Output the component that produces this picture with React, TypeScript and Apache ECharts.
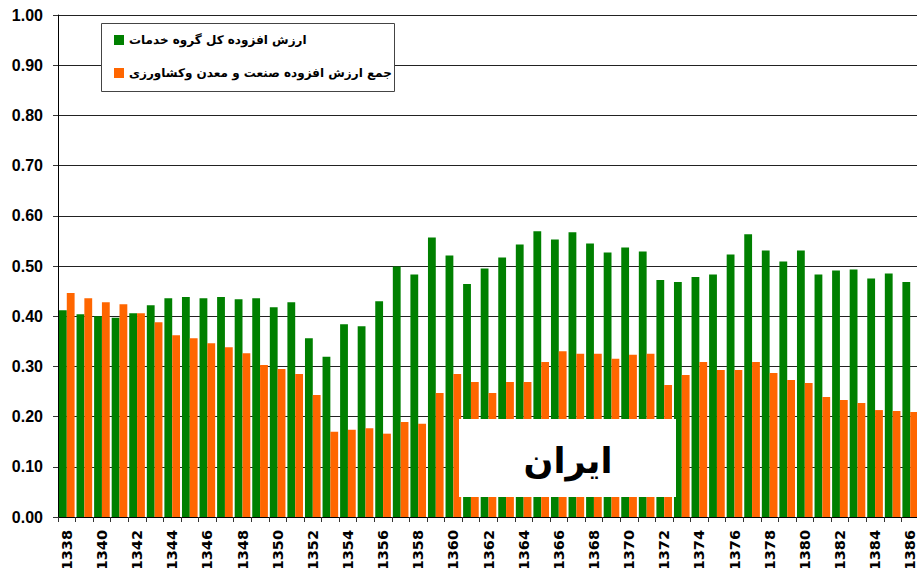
import React, { useEffect, useRef } from "react";
import * as echarts from "echarts";

const years = [
  "1338", "1339", "1340", "1341", "1342", "1343", "1344", "1345", "1346", "1347",
  "1348", "1349", "1350", "1351", "1352", "1353", "1354", "1355", "1356", "1357",
  "1358", "1359", "1360", "1361", "1362", "1363", "1364", "1365", "1366", "1367",
  "1368", "1369", "1370", "1371", "1372", "1373", "1374", "1375", "1376", "1377",
  "1378", "1379", "1380", "1381", "1382", "1383", "1384", "1385", "1386",
];

const servicesName = "ارزش افزوده کل گروه خدمات";
const industryName = "جمع ارزش افزوده صنعت و معدن وکشاورزی";

const services = [
  0.412, 0.404, 0.400, 0.397, 0.406, 0.422, 0.436, 0.438, 0.436, 0.438,
  0.434, 0.436, 0.418, 0.428, 0.356, 0.319, 0.384, 0.380, 0.430, 0.499,
  0.483, 0.557, 0.521, 0.464, 0.495, 0.517, 0.543, 0.569, 0.553, 0.567,
  0.545, 0.527, 0.537, 0.529, 0.472, 0.468, 0.478, 0.483, 0.523, 0.563,
  0.531, 0.509, 0.531, 0.483, 0.491, 0.493, 0.475, 0.485, 0.468,
];

const industry = [
  0.446, 0.436, 0.428, 0.424, 0.406, 0.388, 0.362, 0.356, 0.346, 0.338,
  0.326, 0.303, 0.295, 0.285, 0.243, 0.170, 0.174, 0.177, 0.166, 0.189,
  0.186, 0.247, 0.285, 0.269, 0.247, 0.269, 0.269, 0.309, 0.330, 0.325,
  0.325, 0.315, 0.323, 0.325, 0.263, 0.283, 0.309, 0.293, 0.293, 0.309,
  0.287, 0.273, 0.267, 0.239, 0.233, 0.227, 0.213, 0.211, 0.209,
];

const boxTitle = "ایران";

export default function App() {
  const ref = useRef<HTMLDivElement>(null);
  useEffect(() => {
    if (!ref.current) return;
    const chart = echarts.init(ref.current, null, { renderer: "svg" });
    const labelFont = "'Liberation Sans', Arial, sans-serif";
    const fa = "'DejaVu Sans', 'Liberation Sans', sans-serif";
    chart.setOption({
      animation: false,
      backgroundColor: "#ffffff",
      grid: {
        left: 58,
        top: 15,
        width: 861,
        height: 502,
        containLabel: false,
        outerBoundsMode: "none",
      },
      legend: {
        left: 114,
        top: 32,
        orient: "vertical",
        itemWidth: 10,
        itemHeight: 10,
        itemGap: 17,
        padding: 0,
        icon: "rect",
        z: 6,
        textStyle: {
          fontFamily: fa,
          fontWeight: "bold",
          fontSize: 12,
          lineHeight: 16,
          color: "#000",
        },
        data: [servicesName, industryName],
      },
      xAxis: {
        type: "category",
        data: years,
        boundaryGap: true,
        axisLine: { show: true, lineStyle: { color: "#000", width: 1 } },
        axisTick: {
          show: true,
          interval: 0,
          alignWithLabel: false,
          length: 5,
          lineStyle: { color: "#333" },
        },
        axisLabel: {
          interval: 1,
          rotate: 90,
          margin: 13,
          fontFamily: "'DejaVu Sans', sans-serif",
          fontWeight: "bold",
          fontSize: 14.5,
          color: "#000",
        },
        splitLine: { show: false },
      },
      yAxis: {
        type: "value",
        min: 0,
        max: 1,
        interval: 0.1,
        axisLine: { show: true, lineStyle: { color: "#000", width: 1 } },
        axisTick: { show: true, length: 5, lineStyle: { color: "#333" } },
        axisLabel: {
          margin: 15,
          fontFamily: labelFont,
          fontWeight: "bold",
          fontSize: 16,
          color: "#000",
          formatter: (v: number) => v.toFixed(2),
        },
        splitLine: { show: true, lineStyle: { color: "#222", width: 1 } },
      },
      series: [
        {
          name: servicesName,
          type: "bar",
          data: services,
          barGap: "0%",
          barCategoryGap: "11%",
          itemStyle: { color: "#008000" },
        },
        {
          name: industryName,
          type: "bar",
          data: industry,
          barGap: "0%",
          barCategoryGap: "11%",
          itemStyle: { color: "#FF6600" },
        },
      ],
      graphic: [
        {
          type: "rect",
          z: 5,
          shape: { x: 101.5, y: 23.5, width: 293, height: 68 },
          style: { fill: "#ffffff", stroke: "#444", lineWidth: 1 },
        },
        {
          type: "rect",
          z: 20,
          shape: { x: 459, y: 419, width: 217, height: 78 },
          style: { fill: "#ffffff" },
        },
        {
          type: "text",
          z: 21,
          x: 568,
          y: 461,
          style: {
            text: boxTitle,
            fontFamily: fa,
            fontWeight: "bold",
            fontSize: 35,
            fill: "#000",
            align: "center",
            verticalAlign: "middle",
          },
        },
      ],
    });
    return () => chart.dispose();
  }, []);
  return (
    <div
      ref={ref}
      style={{ position: "fixed", left: 0, top: 0, width: 917, height: 568 }}
    />
  );
}
